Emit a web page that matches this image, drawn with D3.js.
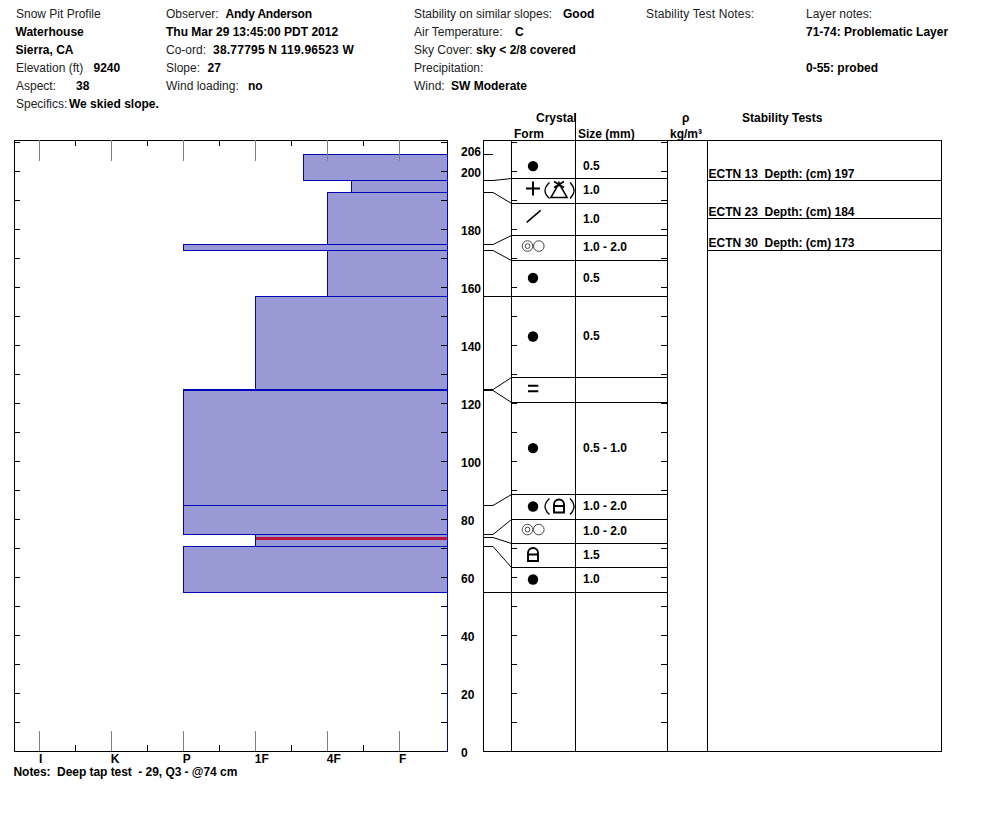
<!DOCTYPE html>
<html>
<head>
<meta charset="utf-8">
<script src="https://cdn.jsdelivr.net/npm/d3@7/dist/d3.min.js"></script>
<style>
html,body{margin:0;padding:0;background:#fff}
svg{display:block}
text{font-family:"Liberation Sans",Arial,sans-serif;font-size:12px;fill:#000;white-space:pre}
text.b{font-weight:bold}
text.r{fill:#222}
</style>
</head>
<body>
<svg id="c" width="994" height="840"></svg>
<script>
// Header text: [label, value]
const headerCol1 = [["Snow Pit Profile",""],["","Waterhouse"],["","Sierra, CA"],["Elevation (ft)","9240"],["Aspect:","38"],["Specifics:","We skied slope."]];
const headerCol2 = [["Observer:","Andy Anderson"],["","Thu Mar 29 13:45:00 PDT 2012"],["Co-ord:","38.77795 N 119.96523 W"],["Slope:","27"],["Wind loading:","no"]];
const headerCol3 = [["Stability on similar slopes:","Good"],["Air Temperature:","C"],["Sky Cover:","sky < 2/8 covered"],["Precipitation:",""],["Wind:","SW Moderate"]];
const layerNotes = ["71-74: Problematic Layer","","0-55: probed"];
const notes = "Notes:  Deep tap test  - 29, Q3 - @74 cm";

// Snow layers (cm above ground) and hand hardness (I=0, K=1, P=2, 1F=3, 4F=4, F=5)
const hardnessLabels = ["I","K","P","1F","4F","F"];
const layerTop      = [206,197,193,175,173,157,125,124.6,85,75,74,71];
const layerBottom   = [197,193,175,173,157,125,124.6,85,75,74,71,55];
const layerHardness = [3.67,4.33,4,2,4,3,2,2,2,3,3,2];
const problemLayerCm = 74;

// Crystal table: row boundaries as displayed, read on the height axis
const rowTopCm    = [206,197.8,189.2,178.1,169.5,157.1,129.2,120.5,88.8,80.2,71.9,63.7];
const rowBottomCm = [197.8,189.2,178.1,169.5,157.1,129.2,120.5,88.8,80.2,71.9,63.7,55];
const rowForm     = ["dot","plus","slash","melt","dot","dot","crust","dot","dot","melt","lock","dot"];
const rowForm2    = ["","hoar","","","","","","","lock","","",""];
const rowSize     = ["0.5","1.0","1.0","1.0 - 2.0","0.5","0.5","","0.5 - 1.0","1.0 - 2.0","1.0 - 2.0","1.5","1.0"];

// Stability tests
const testNames = ["ECTN 13","ECTN 23","ECTN 30"];
const testDepth = [197,184,173];

const heightLabels = [0,20,40,60,80,100,120,140,160,180,200];
const heightTicks = d3.range(0,211,10);

const svg = d3.select("#c");
const y = d3.scaleLinear().domain([0,210]).range([752.1,143.1]);
const x = d3.scaleLinear().domain([0,5]).range([39,399]);

// --- header
function header(rows, xl, xv){
  rows.forEach((r,i)=>{
    const by = 18+i*18;
    if(r[0]) svg.append("text").attr("class","r").attr("x",xl).attr("y",by).text(r[0]);
    if(r[1]) svg.append("text").attr("class","b").attr("x",xv[i]).attr("y",by).text(r[1])
      .style("letter-spacing", r[1].startsWith("38.")?"0.22px":r[1].startsWith("Andy")?"-0.2px":null);
  });
}
header(headerCol1,16,[16,15.5,15.5,93.5,76,69]);
header(headerCol2,166,[225.5,166,213,207.5,248]);
header(headerCol3,414,[563,515,476,0,451]);
svg.append("text").attr("class","r").attr("x",646).attr("y",18).style("letter-spacing","0.15px").text("Stability Test Notes:");
svg.append("text").attr("class","r").attr("x",806).attr("y",18).text("Layer notes:");
layerNotes.forEach((t,i)=>{ if(t) svg.append("text").attr("class","b").attr("x",806).attr("y",36+i*18).text(t); });

// --- column headers
[["Crystal",536,122],["Form",514,138],["Size (mm)",578,138],["ρ",682,122],["kg/m³",670,138],["Stability Tests",742,122]]
 .forEach(d=>svg.append("text").attr("class","b").attr("x",d[1]).attr("y",d[2]).text(d[0]));

const crisp = svg.append("g").attr("shape-rendering","crispEdges");

// --- profile layers
const L=14.5,R=447.5,T=140.5,B=751.5;
const bx = h => Math.round(x(h))+.5;
crisp.append("g").selectAll("rect").data(layerTop).join("rect")
  .attr("x",(d,i)=>bx(layerHardness[i]))
  .attr("y",d=>y(d))
  .attr("width",(d,i)=>R-bx(layerHardness[i]))
  .attr("height",(d,i)=>y(layerBottom[i])-y(d))
  .attr("fill","#9999d6").attr("stroke","#0000b8").attr("stroke-width",1);
crisp.append("rect").attr("x",bx(3)).attr("width",R-bx(3)).attr("y",Math.floor(y(problemLayerCm))).attr("height",3).attr("fill","#b8143c");

// --- frame
crisp.append("path").attr("d",`M${L},${B}V${T}H${R}V${y(206)}`).attr("fill","none").attr("stroke","#000");
crisp.append("path").attr("d",`M${L},${B}H${R}`).attr("fill","none").attr("stroke","#000");
crisp.append("path").attr("d",`M${R},${y(206)}V${B}`).attr("fill","none").attr("stroke","#0000b8");

// --- axes: ticks only
function tickAxis(axis, tx, ty, color){
  const g = crisp.append("g").attr("transform",`translate(${tx},${ty})`).call(axis);
  g.select(".domain").remove();
  g.selectAll("text").remove();
  g.selectAll("line").attr("stroke",color);
  return g;
}
const xMajor = d3.range(0,6), xMinor = d3.range(0.5,5,1);
tickAxis(d3.axisBottom(x).tickValues(xMajor).tickSize(-20),0,751,"#808080");
tickAxis(d3.axisTop(x).tickValues(xMajor).tickSize(-21),0,140,"#808080");
tickAxis(d3.axisBottom(x).tickValues(xMinor).tickSize(-6),0,751,"#000");
tickAxis(d3.axisTop(x).tickValues(xMinor).tickSize(-6),0,140,"#000");
const yt = y.copy().range([751.3,142.3]);
tickAxis(d3.axisLeft(yt).tickValues(heightTicks).tickSize(-6),14,0,"#000");
tickAxis(d3.axisRight(yt).tickValues(heightTicks).tickSize(-6),447,0,"#000");
tickAxis(d3.axisLeft(yt).tickValues(heightTicks).tickSize(-6),511,0,"#000");
tickAxis(d3.axisRight(yt).tickValues(heightTicks).tickSize(-6),667,0,"#000");

// --- hardness and height labels
hardnessLabels.forEach((t,i)=>svg.append("text").attr("class","b").attr("x",x(i)+(i==0?0:i==5?0:-0.2)).attr("y",762.5).text(t));
svg.append("text").attr("class","b").attr("x",13.5).attr("y",775.6).style("letter-spacing","-0.05px").text(notes);
heightLabels.forEach(v=>svg.append("text").attr("class","b").attr("x",461).attr("y",y(v)+5).text(v));
svg.append("text").attr("class","b").attr("x",461).attr("y",156).text("206");

// --- table frames
const P={a:483.5,b:511.5,c:575.5,d:667.5,e:707.5,f:941.5};
crisp.append("rect").attr("x",P.a).attr("y",T).attr("width",P.f-P.a).attr("height",B-T).attr("fill","none").attr("stroke","#000");
[P.b,P.c,P.d,P.e].forEach(px=>crisp.append("line").attr("x1",px).attr("x2",px).attr("y1",T).attr("y2",B).attr("stroke","#000"));
crisp.append("line").attr("x1",P.c).attr("x2",P.c).attr("y1",112.5).attr("y2",T).attr("stroke","#000");

// row boundaries
rowBottomCm.forEach(v=>crisp.append("line").attr("x1",P.b).attr("x2",P.d).attr("y1",y(v)).attr("y2",y(v)).attr("stroke","#000"));

// --- connectors from layer boundary to table row boundary
const line = d3.line();
const elbow = 493;
const conn = svg.append("g").attr("fill","none").attr("stroke","#000").attr("stroke-width",1);
const snap = v => Math.floor(y(v))+.5;
conn.append("path").attr("d",line([[P.a,snap(206)],[elbow,snap(206)]]));
layerBottom.forEach((v,i)=>{
  conn.append("path").attr("d",line([[P.a,snap(v)],[elbow,snap(v)],[P.b,snap(rowBottomCm[i])]]));
});

// --- stability tests
testDepth.forEach((d,i)=>{
  crisp.append("line").attr("x1",P.e).attr("x2",P.f).attr("y1",y(d)).attr("y2",y(d)).attr("stroke","#000");
  svg.append("text").attr("class","b").attr("x",708.5).attr("y",y(d)-3).text(testNames[i]);
  svg.append("text").attr("class","b").attr("x",764.5).attr("y",y(d)-3).text("Depth: (cm) "+d);
});

// --- grain form glyphs
const glyphs = {
  dot:g=>g.append("circle").attr("r",5.2).attr("fill","#000"),
  plus:g=>g.append("path").attr("d","M-7,-2H7M0,-9V5").attr("stroke","#000").attr("stroke-width",2).attr("fill","none"),
  slash:g=>g.append("path").attr("d","M-6.3,3.4L7.7,-8.6").attr("stroke","#000").attr("stroke-width",1.6).attr("fill","none"),
  crust:g=>g.append("path").attr("d","M-5,-3.8H5.3M-5,1.8H5.3").attr("stroke","#000").attr("stroke-width",2).attr("fill","none"),
  melt:g=>{
    g.append("circle").attr("cx",-5.5).attr("cy",-1.5).attr("r",5.3).attr("fill","none").attr("stroke","#333").attr("stroke-width",.9);
    g.append("circle").attr("cx",-5.5).attr("cy",-1.5).attr("r",2.4).attr("fill","none").attr("stroke","#333").attr("stroke-width",.9);
    g.append("circle").attr("cx",5.8).attr("cy",-1.5).attr("r",5.3).attr("fill","none").attr("stroke","#333").attr("stroke-width",.9);
  },
  lock:g=>g.append("path").attr("d","M-5,6H5V-2A5,5 0 0 0 -5,-2ZM-5,-0.5H5").attr("stroke","#000").attr("stroke-width",1.9).attr("fill","none"),
  hoar:g=>g.append("path").attr("d","M-8,7H8L0,-7ZM-5,-9L5,-3M5,-9L-5,-3M0,-9V-4").attr("stroke","#000").attr("stroke-width",1.6).attr("fill","none"),
  lparen:g=>g.append("path").attr("d","M3,-8Q-6,0 3,8").attr("stroke","#000").attr("stroke-width",1.3).attr("fill","none"),
  rparen:g=>g.append("path").attr("d","M-2,-8Q6,0 -2,8").attr("stroke","#000").attr("stroke-width",1.3).attr("fill","none")
};
function glyph(name,gx,gy){ glyphs[name](svg.append("g").attr("transform",`translate(${gx},${gy})`)); }
rowTopCm.forEach((t,i)=>{
  const cy=(y(t)+y(rowBottomCm[i]))/2-0.5;
  glyph(rowForm[i],533,cy);
  if(rowForm2[i]){
    glyph("lparen",546.5,cy);
    glyph(rowForm2[i],559,cy);
    glyph("rparen",572,cy);
  }
  if(rowSize[i]) svg.append("text").attr("class","b").attr("x",583).attr("y",cy+3.6).text(rowSize[i]);
});
</script>
</body>
</html>
